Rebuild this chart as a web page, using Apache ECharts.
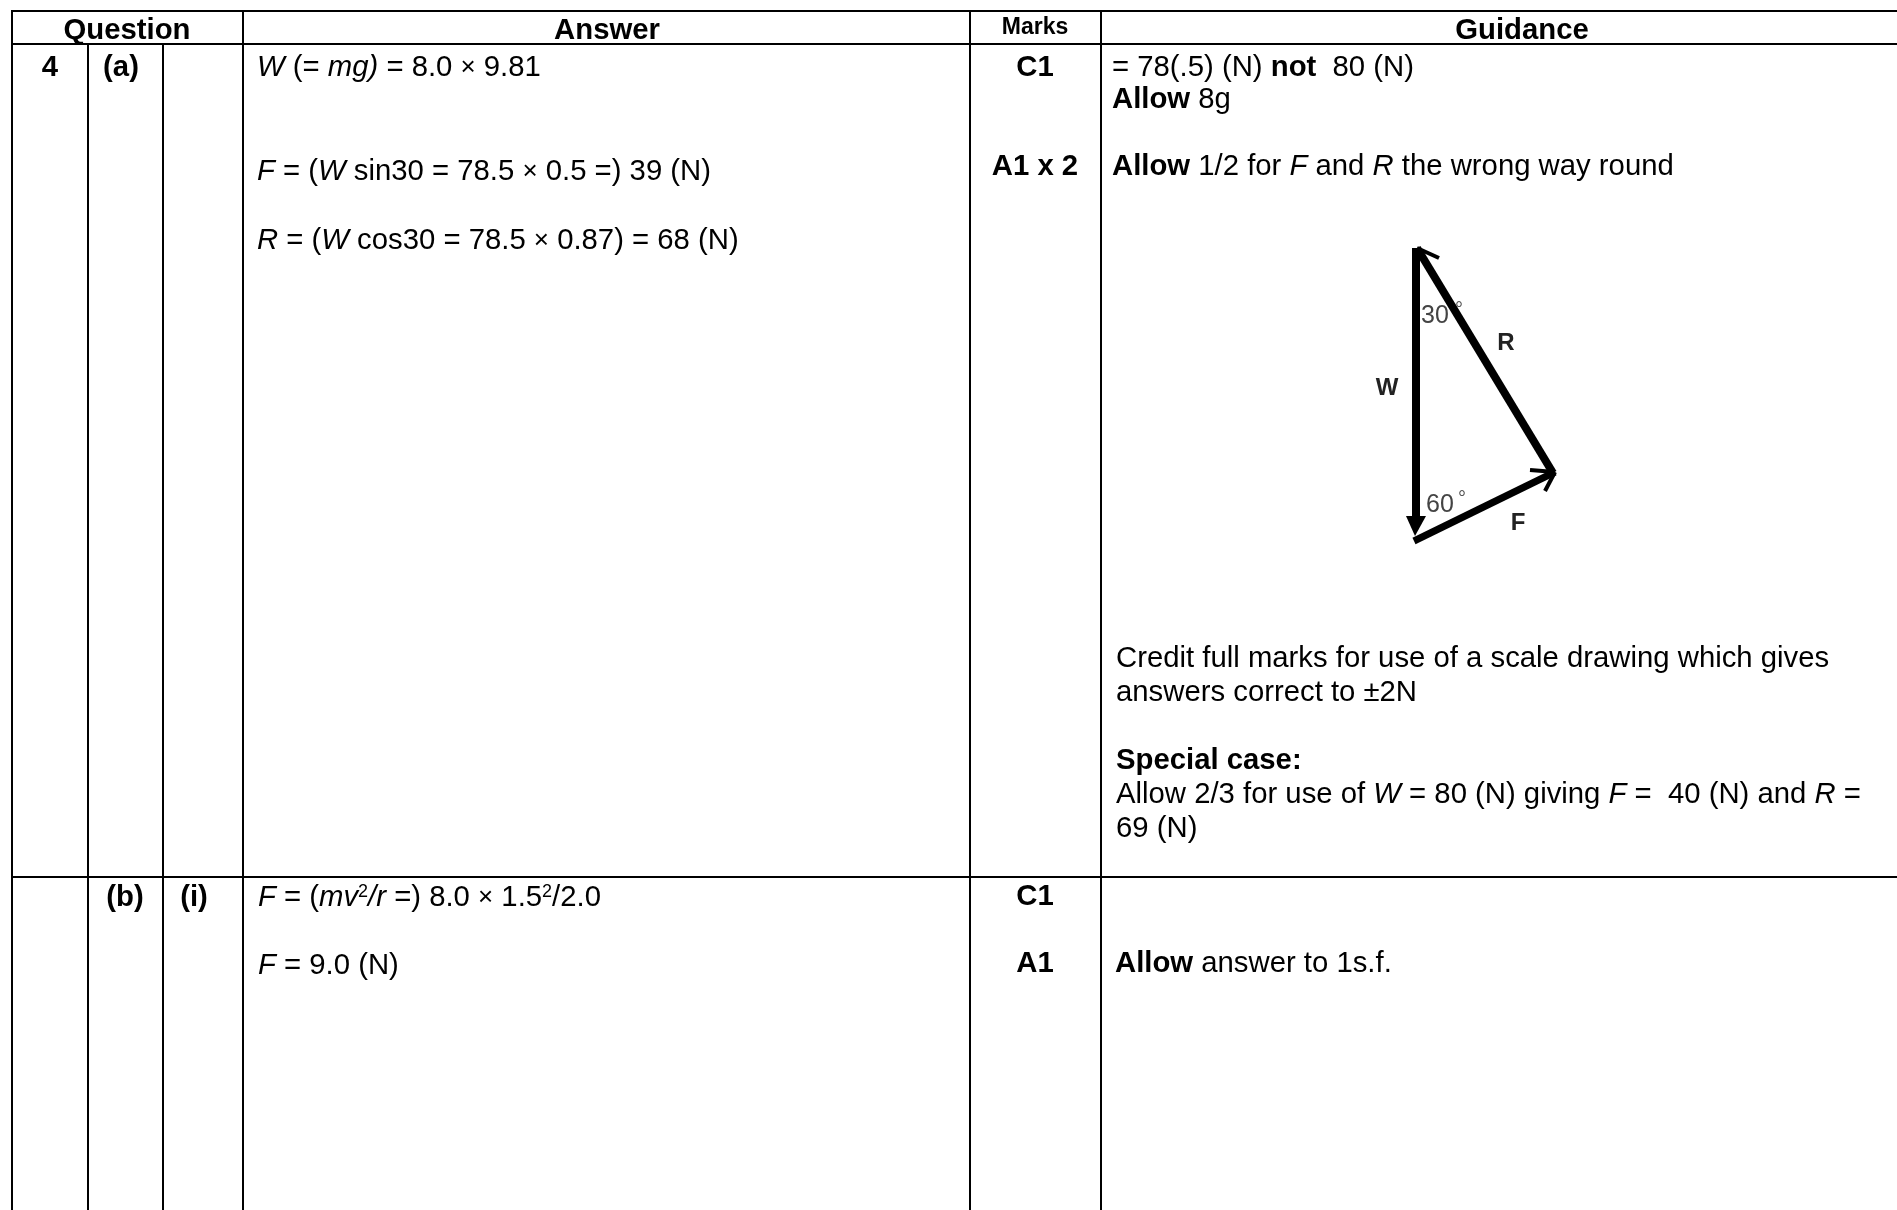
<!DOCTYPE html>
<html>
<head>
<meta charset="utf-8">
<style>
  html, body { margin: 0; padding: 0; background: #fff; }
  #main { width: 1897px; height: 1210px; }
</style>
<script src="https://cdn.jsdelivr.net/npm/echarts@6/dist/echarts.min.js"></script>
</head>
<body>
<div id="main"></div>
<script>
// table rules, [x1, y1, x2, y2] on the page scale
var ruleSegments = [
  [11, 11, 1897, 11], [11, 44, 1897, 44], [11, 877, 1897, 877],
  [12, 10, 12, 1210], [88, 44, 88, 1210], [163, 44, 163, 1210],
  [243, 10, 243, 1210], [970, 10, 970, 1210], [1101, 10, 1101, 1210]
];

// header row
var headerText = ['Question', 'Answer', 'Guidance'];
var headerX = [127, 607, 1522];
var headerY = [31, 31, 31];
var marksHeaderText = ['Marks'];
var marksHeaderX = [1035];
var marksHeaderY = [28];

// question numbers and marks, centred in their cells
var labelText = ['4', '(a)', '(b)', '(i)', 'C1', 'A1 x 2', 'C1', 'A1'];
var labelX = [50, 121, 125, 194, 1035, 1035, 1035, 1035];
var labelY = [68, 68, 898, 898, 68, 167, 897, 964];

// answer column
var answerText = [
  '{i|W} (= {i|mg)} = 8.0 {s|×} 9.81',
  '{i|F} = ({i|W} sin30 = 78.5 {s|×} 0.5 =) 39 (N)',
  '{i|R} = ({i|W} cos30 = 78.5 {s|×} 0.87) = 68 (N)',
  '{i|F} = ({i|mv}{sup|2}{i|/r} =) 8.0 {s|×} 1.5{sup|2}/2.0',
  '{i|F} = 9.0 (N)'
];
var answerX = [257, 257, 257, 258, 258];
var answerY = [68, 172, 241, 898, 966];

// guidance column
var guidanceText = [
  '= 78(.5) (N) {b|not}  80 (N)',
  '{b|Allow} 8g',
  '{b|Allow} 1/2 for {i|F} and {i|R} the wrong way round',
  'Credit full marks for use of a scale drawing which gives',
  'answers correct to ±2N',
  '{b|Special case:}',
  'Allow 2/3 for use of {i|W} = 80 (N) giving {i|F} =  40 (N) and {i|R} =',
  '69 (N)',
  '{b|Allow} answer to 1s.f.'
];
var guidanceX = [1112, 1112, 1112, 1116, 1116, 1116, 1116, 1116, 1115];
var guidanceY = [68, 100, 167, 659, 693, 761, 795, 829, 964];

// force triangle sketch
var weightShaft = [[1416, 248, 1416, 520]];
var reactionShaft = [[1417, 248, 1553, 473]];
var frictionShaft = [[1414, 541, 1555, 472]];
var arrowBarbs = [[1417, 248, 1439, 258], [1530, 470, 1555, 472], [1555, 472, 1545, 491]];
var weightHead = [[1406, 516], [1426, 516], [1415, 536]];
var sketchLetters = ['W', 'R', 'F'];
var sketchLetterX = [1387, 1506, 1518];
var sketchLetterY = [388, 343, 523];
var sketchAngles = ['30', '60'];
var sketchAngleX = [1435, 1440];
var sketchAngleY = [316, 505];
var sketchDegrees = ['°', '°'];
var sketchDegreeX = [1459, 1462];
var sketchDegreeY = [310, 499];

var FONT = '"Liberation Sans", Arial, sans-serif';
var BODY = 29.3;
var richStyles = {
  b: { fontFamily: FONT, fontSize: BODY, fontWeight: 'bold', fill: '#000' },
  i: { fontFamily: FONT, fontSize: BODY, fontStyle: 'italic', fill: '#000' },
  s: { fontFamily: FONT, fontSize: 26, fill: '#000' },
  sup: { fontFamily: FONT, fontSize: 18, fill: '#000', verticalAlign: 'top', lineHeight: 18 }
};

// strokes go through the axes so they stay on the same scale as the text
function segmentSeries(segments, width, color) {
  return {
    type: 'custom',
    coordinateSystem: 'cartesian2d',
    silent: true,
    clip: false,
    data: segments,
    renderItem: function (params, api) {
      var a = api.coord([api.value(0), api.value(1)]);
      var b = api.coord([api.value(2), api.value(3)]);
      return {
        type: 'line',
        shape: { x1: a[0], y1: a[1], x2: b[0], y2: b[1] },
        style: { stroke: color, lineWidth: width, fill: null }
      };
    }
  };
}

function textSeries(texts, xs, ys, opts) {
  return {
    type: 'custom',
    coordinateSystem: 'cartesian2d',
    silent: true,
    clip: false,
    data: xs.map(function (x, i) { return [x, ys[i]]; }),
    renderItem: function (params, api) {
      var p = api.coord([api.value(0), api.value(1)]);
      return {
        type: 'text',
        x: p[0],
        y: p[1],
        style: {
          text: texts[params.dataIndex],
          rich: richStyles,
          align: opts.align || 'left',
          verticalAlign: 'middle',
          fontFamily: FONT,
          fontSize: opts.size || BODY,
          fontWeight: opts.weight || 'normal',
          fill: opts.color || '#000'
        }
      };
    }
  };
}

var headSeries = {
  type: 'custom',
  coordinateSystem: 'cartesian2d',
  silent: true,
  clip: false,
  data: [0],
  renderItem: function (params, api) {
    return {
      type: 'polygon',
      shape: { points: weightHead.map(function (p) { return api.coord(p); }) },
      style: { fill: '#000' }
    };
  }
};

var myChart = echarts.init(document.getElementById('main'));
myChart.setOption({
  animation: false,
  backgroundColor: '#fff',
  grid: { left: 0, right: 0, top: 0, bottom: 0 },
  xAxis: { type: 'value', min: 0, max: 1897, show: false },
  yAxis: { type: 'value', min: 0, max: 1210, inverse: true, show: false },
  series: [
    segmentSeries(ruleSegments, 2, '#000'),
    segmentSeries(weightShaft, 8, '#000'),
    segmentSeries(reactionShaft, 8, '#000'),
    segmentSeries(frictionShaft, 7, '#000'),
    segmentSeries(arrowBarbs, 4, '#000'),
    headSeries,
    textSeries(headerText, headerX, headerY, { align: 'center', weight: 'bold', size: BODY }),
    textSeries(marksHeaderText, marksHeaderX, marksHeaderY, { align: 'center', weight: 'bold', size: 23 }),
    textSeries(labelText, labelX, labelY, { align: 'center', weight: 'bold' }),
    textSeries(answerText, answerX, answerY, {}),
    textSeries(guidanceText, guidanceX, guidanceY, {}),
    textSeries(sketchLetters, sketchLetterX, sketchLetterY, { align: 'center', weight: 'bold', size: 24, color: '#222' }),
    textSeries(sketchAngles, sketchAngleX, sketchAngleY, { align: 'center', size: 25, color: '#444' }),
    textSeries(sketchDegrees, sketchDegreeX, sketchDegreeY, { align: 'center', size: 20, color: '#555' })
  ]
});
</script>
</body>
</html>
